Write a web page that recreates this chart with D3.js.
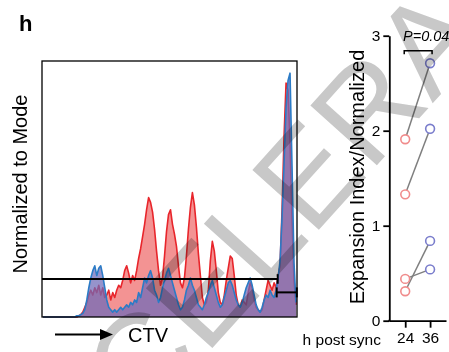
<!DOCTYPE html>
<html>
<head>
<meta charset="utf-8">
<script src="https://cdn.jsdelivr.net/npm/d3@7"></script>
<style>
  body { margin: 0; background: #fff; }
  svg { display: block; font-family: "Liberation Sans", Arial, sans-serif; }
</style>
</head>
<body>
<div class="fig-h"></div>
<script>
// CTV histogram, % of mode per bin (128 bins)
var redCounts = [
  0,0,0,0,0,0,0,0,0,0,0,0,0,0,0,0,
  0,0,0.5,1,2,4,6,9,11,9,12,10,13,9,12,8,
  9,11,7,10,8,11,13,12,15,19,21,18,14,17,15,19,
  24,28,33,38,44,49,47,43,36,27,19,13,16,25,35,42,
  44,38,34,29,21,14,12,16,25,36,45,51,46,37,26,17,
  8,5,6,11,23,31,27,19,10,6,5,9,15,20,25,24,
  17,9,5,4,7,6,5,10,14,12,7,4,3,2,3,7,
  11,15,13,11,14,12,17,21,44,74,96,93,72,40,15,5
];
var blueCounts = [
  0,0,0,0,0,0,0,0,0,0,0,0,0,0,0,0,
  0,0.5,0.5,1,1.5,3,7,12,16,19,21,17,20,21,17,12,
  7,4,3,2,3,2,3,4,3,4,5,4,6,5,7,6,
  10,8,12,16,14,17,19,16,11,9,6,8,12,15,18,20,
  17,14,11,8,5,3,4,7,11,13,16,13,11,8,5,4,
  3,5,8,10,13,15,12,9,6,4,5,8,11,14,15,13,
  10,7,5,4,6,9,12,14,16,13,9,5,3,2,4,7,
  9,8,11,9,8,11,16,23,41,63,86,97,100,62,22,6
];
// gates: [start bin, end bin, level %]
var gates = [[-0.5, 117.8, 15.6], [117.3, 127.4, 10.1]];

// expansion index, paired samples
var timepoints = ['24', '36'];
var expansion24 = [1.91, 1.33, 0.31, 0.44];
var expansion36 = [2.71, 2.02, 0.84, 0.54];
var yTicks = [0, 1, 2, 3];
var pLabel = 'P=0.04';
var watermark = 'ACCELERATED ARTICLE PREVIEW';

var svg = d3.select('.fig-h').append('svg')
  .attr('width', 449)
  .attr('height', 352);

// panel letter
svg.append('text')
  .attr('x', 19).attr('y', 30.5)
  .style('font-size', '22px').style('font-weight', 'bold')
  .text('h');

// ---------- histogram ----------
var box = { left: 42, right: 297, top: 61, bottom: 317 };
var xScale = d3.scaleLinear().domain([-0.5, 127.5]).range([box.left, box.right]);
var yScale = d3.scaleLinear().domain([0, 105]).range([box.bottom, box.top]);

var hist = svg.append('g');
var area = d3.area()
  .x(function(d, i) { return xScale(i); })
  .y0(yScale(0))
  .y1(function(d) { return yScale(d); });
var line = d3.line()
  .x(function(d, i) { return xScale(i); })
  .y(function(d) { return yScale(d); });

// red first, blue layered over it
hist.append('path').datum(redCounts)
  .attr('d', area).attr('fill', 'rgba(232,40,40,0.5)');
hist.append('path').datum(redCounts)
  .attr('d', line).attr('fill', 'none')
  .attr('stroke', '#e8252b').attr('stroke-width', 1.6).attr('stroke-linejoin', 'round');
hist.append('path').datum(blueCounts)
  .attr('d', area).attr('fill', 'rgba(110,105,185,0.72)');
hist.append('path').datum(blueCounts)
  .attr('d', line).attr('fill', 'none')
  .attr('stroke', '#2b7bc6').attr('stroke-width', 1.6).attr('stroke-linejoin', 'round');

// gates
gates.forEach(function(g, k) {
  var gy = yScale(g[2]);
  var h = k === 0 ? 4.8 : 5;
  var gg = hist.append('g').attr('stroke', '#000').attr('stroke-width', 2);
  gg.append('line')
    .attr('x1', xScale(g[0])).attr('x2', xScale(g[1]))
    .attr('y1', gy).attr('y2', gy);
  gg.append('line')
    .attr('x1', xScale(g[1])).attr('x2', xScale(g[1]))
    .attr('y1', gy - h).attr('y2', gy + h);
  if (k === 1) {
    gg.append('line')
      .attr('x1', xScale(g[0])).attr('x2', xScale(g[0]))
      .attr('y1', gy - h).attr('y2', gy + h);
  }
});

// frame
svg.append('rect')
  .attr('x', box.left).attr('y', box.top)
  .attr('width', box.right - box.left).attr('height', box.bottom - box.top)
  .attr('fill', 'none').attr('stroke', '#000').attr('stroke-width', 1.3);

// y label
svg.append('text')
  .attr('transform', 'translate(26.5,184) rotate(-90)')
  .style('text-anchor', 'middle').style('font-size', '20px')
  .text('Normalized to Mode');

// CTV arrow + label
svg.append('line')
  .attr('x1', 55).attr('x2', 102).attr('y1', 334.5).attr('y2', 334.5)
  .attr('stroke', '#000').attr('stroke-width', 2);
svg.append('path')
  .attr('d', 'M100,329 L113,334.5 L100,340 Z')
  .attr('fill', '#000');
svg.append('text')
  .attr('x', 128).attr('y', 341.5)
  .style('font-size', '20px')
  .text('CTV');

// ---------- expansion index ----------
var xPos = d3.scalePoint().domain(timepoints).range([389.3, 446]).padding(0.64);
var yExp = d3.scaleLinear().domain([0, 3]).range([320.7, 35.7]);

var yAxis = svg.append('g')
  .attr('transform', 'translate(389.3,0)')
  .call(d3.axisLeft(yExp).tickValues(yTicks).tickFormat(d3.format('d'))
    .tickSize(6).tickSizeOuter(0).tickPadding(3));
var xAxis = svg.append('g')
  .attr('transform', 'translate(0,320.7)')
  .call(d3.axisBottom(xPos).tickSize(7).tickSizeOuter(0).tickPadding(4));

[yAxis, xAxis].forEach(function(ax) {
  ax.select('.domain').attr('stroke', '#000').attr('stroke-width', 1.8);
  ax.selectAll('.tick line').attr('stroke', '#000').attr('stroke-width', 1.8);
  ax.selectAll('.tick text')
    .attr('fill', '#000')
    .style('font-size', '15.5px')
    .style('font-family', '"Liberation Sans", Arial, sans-serif');
});
// join the two axes at the corner
svg.append('line')
  .attr('x1', 388.4).attr('x2', 390).attr('y1', 320.7).attr('y2', 320.7)
  .attr('stroke', '#000').attr('stroke-width', 1.8);

svg.append('text')
  .attr('x', 381).attr('y', 345)
  .style('text-anchor', 'end').style('font-size', '15.5px')
  .text('h post sync');

svg.append('text')
  .attr('transform', 'translate(364.3,177) rotate(-90)')
  .style('text-anchor', 'middle').style('font-size', '20px')
  .text('Expansion Index/Normalized');

// pairing lines
var pairs = d3.zip(expansion24, expansion36);
svg.append('g').selectAll('line')
  .data(pairs)
  .enter()
  .append('line')
  .attr('x1', xPos('24')).attr('x2', xPos('36'))
  .attr('y1', function(d) { return yExp(d[0]); })
  .attr('y2', function(d) { return yExp(d[1]); })
  .attr('stroke', '#7f7f7f').attr('stroke-width', 1.5);

// points
svg.append('g').selectAll('circle')
  .data(expansion24)
  .enter()
  .append('circle')
  .attr('cx', xPos('24')).attr('cy', function(d) { return yExp(d); })
  .attr('r', 4.4)
  .attr('fill', '#fff').attr('stroke', '#f08c8c').attr('stroke-width', 1.6);
svg.append('g').selectAll('circle')
  .data(expansion36)
  .enter()
  .append('circle')
  .attr('cx', xPos('36')).attr('cy', function(d) { return yExp(d); })
  .attr('r', 4.4)
  .attr('fill', '#fff').attr('stroke', '#7a7dcc').attr('stroke-width', 1.6);

// significance bracket
var bracketY = 50.7;
svg.append('path')
  .attr('d', 'M' + (xPos('24') - 1) + ',' + (bracketY + 3.5) + ' V' + bracketY +
             ' H' + (xPos('36') + 2) + ' V' + (bracketY + 3.5))
  .attr('fill', 'none').attr('stroke', '#000').attr('stroke-width', 1.5);
svg.append('text')
  .attr('x', 403).attr('y', 40.7)
  .style('font-size', '14.5px').style('font-style', 'italic')
  .text(pLabel);

// preview watermark across the figure
svg.append('text')
  .attr('transform', 'translate(21.6,559.9) rotate(-48)')
  .style('font-size', '130px')
  .style('mix-blend-mode', 'multiply')
  .attr('fill', '#c8c8c8')
  .text(watermark);
</script>
</body>
</html>
